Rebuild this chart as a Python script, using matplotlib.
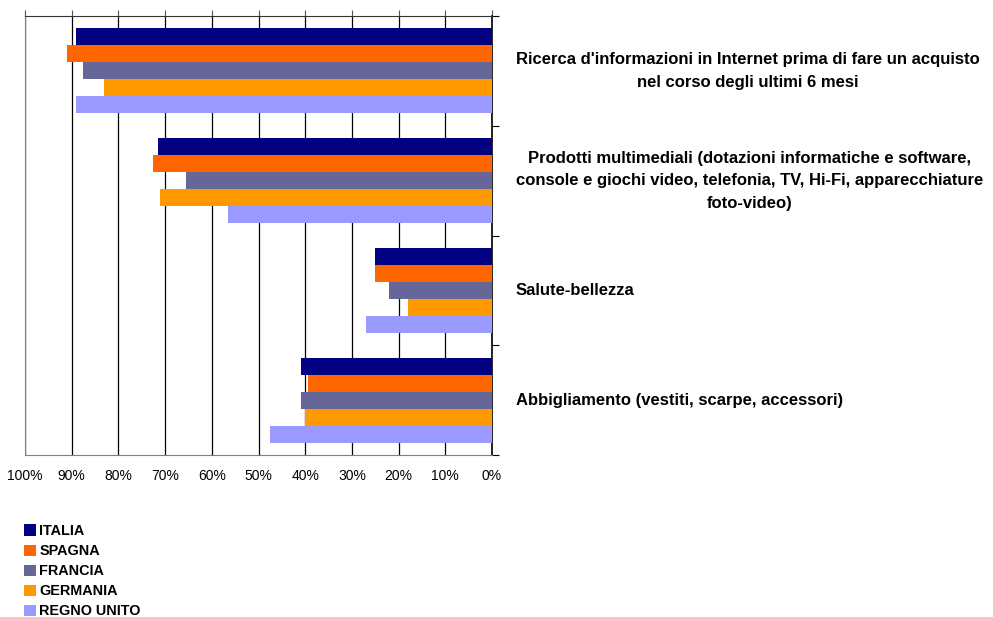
import numpy as np
import matplotlib.pyplot as plt

categories = [
    "Ricerca d'informazioni in Internet prima di fare un acquisto\nnel corso degli ultimi 6 mesi",
    "Prodotti multimediali (dotazioni informatiche e software,\nconsole e giochi video, telefonia, TV, Hi-Fi, apparecchiature\nfoto-video)",
    "Salute-bellezza",
    "Abbigliamento (vestiti, scarpe, accessori)",
]
countries = ["ITALIA", "SPAGNA", "FRANCIA", "GERMANIA", "REGNO UNITO"]
italia = [89, 71.5, 25, 41]
spagna = [91, 72.5, 25, 39.5]
francia = [87.5, 65.5, 22, 41]
germania = [83, 71, 18, 40]
regno_unito = [89, 56.5, 27, 47.5]
colors = ["#000080", "#FF6600", "#666699", "#FF9900", "#9999FF"]
xticks = [100, 90, 80, 70, 60, 50, 40, 30, 20, 10, 0]

plt.rcParams['font.family'] = ['Liberation Sans', 'DejaVu Sans']

fig = plt.figure(figsize=(9.93, 6.17), dpi=100)
W, H = 993, 617
ax = fig.add_axes([25 / W, 1 - 455 / H, (492 - 25) / W, (455 - 16) / H])

series = [italia, spagna, francia, germania, regno_unito]
h = 0.155
y = np.arange(len(categories))
for j, (vals, c, name) in enumerate(zip(series, colors, countries)):
    ax.barh(y + (j - 2) * h, vals, height=h, color=c, label=name, zorder=3)

ax.set_xlim(100, 0)
ax.set_ylim(3.5, -0.5)
ax.set_xticks(xticks)
ax.set_xticklabels([f"{v}%" for v in xticks], fontsize=10)
ax.grid(axis='x', color='black', linewidth=0.9, zorder=1)
ax.tick_params(axis='x', top=True, bottom=False, labelbottom=True,
               direction='out', length=4, color='#555555', pad=6)

# axis on the right, ticks between categories
ax.yaxis.tick_right()
ax.set_yticks([-0.5, 0.5, 1.5, 2.5, 3.5])
ax.set_yticklabels([])
ax.tick_params(axis='y', direction='out', length=5, color='black')

for s in ['left', 'bottom']:
    ax.spines[s].set_color('#808080')
ax.spines['top'].set_color('#333333')
ax.spines['right'].set_color('black')
ax.spines['right'].set_linewidth(1.2)

# category labels to the right of the axis
for i, lab in enumerate(categories):
    yc = ax.transData.transform((0, i))[1] / fig.bbox.height
    fig.text(516 / W, yc, lab, ha='left', va='center', multialignment='center',
             fontsize=12, fontweight='bold', linespacing=1.62)

fig.legend(loc='upper left', bbox_to_anchor=(11 / W, 1 - 511 / H),
           frameon=False, handlelength=0.8, handleheight=0.8,
           handletextpad=0.25, labelspacing=0.42,
           prop={'weight': 'bold', 'size': 10.4})

fig.savefig('out.png', dpi=100)
